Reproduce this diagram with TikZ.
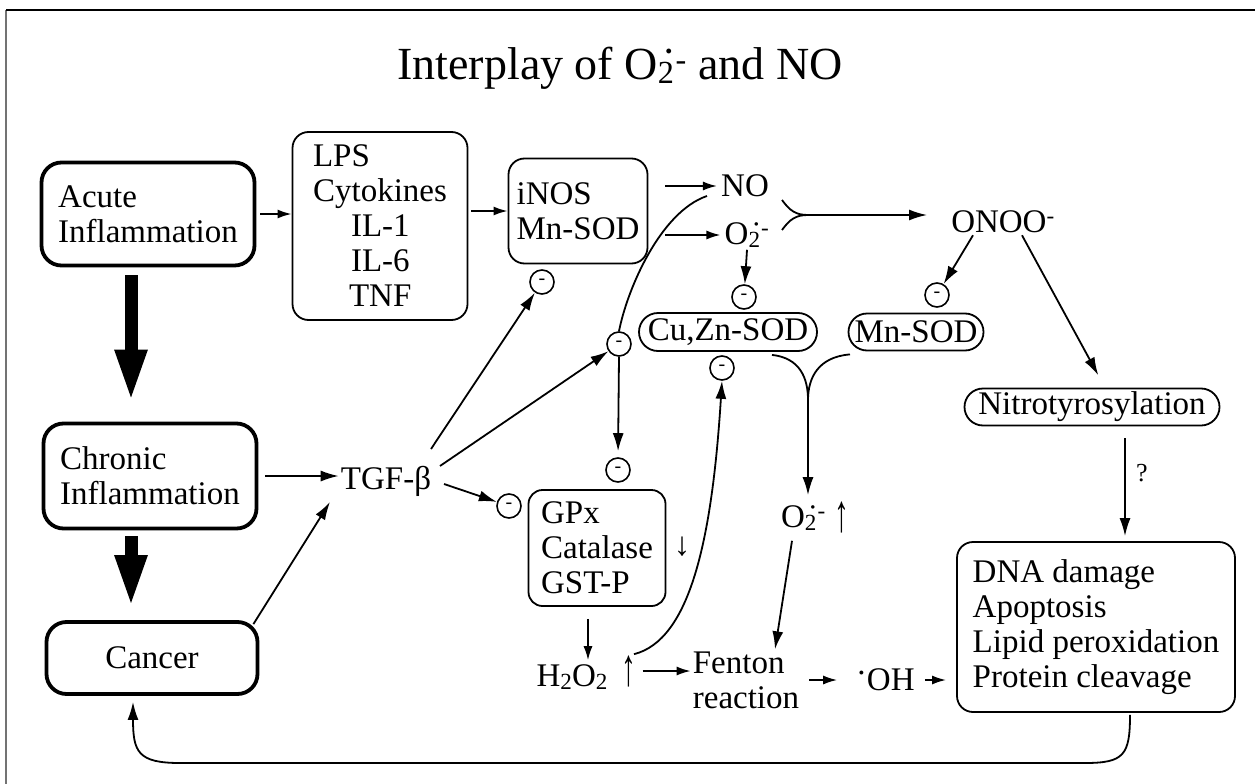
\documentclass[tikz,border=0pt]{standalone}
\usepackage{fontspec}
\usepackage{graphicx}
\setmainfont{Liberation Serif}
\usetikzlibrary{arrows.meta,shapes.misc}
\newcommand{\lsub}[1]{\raisebox{-0.1em}{\scalebox{0.7}{#1}}}
\newcommand{\supox}{O\lsub{2}\kern-0.28em˙\kern-0.02em\textsuperscript{-}}
\newcommand{\tallup}{\raisebox{-0.12em}{\scalebox{0.9}[1.6]{↑}}}
\tikzset{
 every node/.style={font=\fontsize{33}{35}\selectfont, inner sep=2pt},
 box/.style={draw, line width=1.8pt, rounded corners=16pt, align=left},
 thickbox/.style={draw, line width=3.8pt, rounded corners=20pt, align=left, minimum width=213pt},
 pill/.style={draw, line width=1.8pt, rounded rectangle, inner xsep=6pt, inner ysep=2pt},
 neg/.style={draw, circle, line width=1.6pt, minimum size=24pt, inner sep=0pt, font=\fontsize{20}{20}\selectfont},
 arr/.style={line width=1.8pt, -{Latex[length=18pt,width=11pt]}},
 sarr/.style={line width=1.8pt, -{Latex[length=14pt,width=9pt]}},
 bigarr/.style={line width=13pt, -{Triangle[length=53pt,width=29pt]}},
 ln/.style={line width=1.8pt}
}
\begin{document}
\begin{tikzpicture}[x=1pt,y=-1pt]
\useasboundingbox (0,0) rectangle (1255,784);
% frame
\draw[line width=1.6pt, black!55] (6,784) -- (6,10);
\draw[line width=1.8pt] (6,10) -- (1255,10);
% title
\node[font=\fontsize{46}{50}\selectfont] (title) at (620,68) {Interplay of \supox{} and NO};
% left column
\node[thickbox, minimum height=103pt] (acute) at (148,214) {Acute\\Inflammation};
\node[thickbox, minimum height=105pt] (chronic) at (150,476) {Chronic\\Inflammation};
\node[thickbox, minimum height=72pt, minimum width=211pt] (cancer) at (152,658) {Cancer};
\node[box, minimum width=175pt, minimum height=188pt] (lps) at (380,226)
  {LPS\\Cytokines\\\hspace*{38pt}IL-1\\\hspace*{38pt}IL-6\\\hspace*{36pt}TNF};
\node[box, minimum width=139pt, minimum height=105pt] (inos) at (578,211) {iNOS\\Mn-SOD};
\node (no) at (745,186) {NO};
\node (o2) at (747,235) {\supox};
\node (onoo) at (1003,222) {ONOO\textsuperscript{-}};
\node (tgf) at (386,481) {TGF-β};
% minus circles
\node[neg] (nINOS) at (542,282) {-};
\node[neg] (nO2) at (744,297) {-};
\node[neg] (nMN) at (937,295) {-};
\node[neg] (nL) at (619,344) {-};
\node[neg] (nCU) at (722,368) {-};
\node[neg] (nG) at (618,470) {-};
\node[neg] (nGL) at (509,506) {-};
% pills
\node[pill, minimum width=190pt, minimum height=38pt] (cuzn) at (728,332) {Cu,Zn-SOD};
\node[pill, minimum width=147pt, minimum height=37pt] (mnsod) at (916,332) {Mn-SOD};
\node[pill, minimum width=267pt, minimum height=37pt] (nitro) at (1092,407) {Nitrotyrosylation};
% lower middle
\node[box, minimum width=137pt, minimum height=116pt, rounded corners=14pt] (gpx) at (597,548) {GPx\\Catalase\\GST-P};
\node (down1) at (682,547) {↓};
\node (o2b) at (815,517) {\supox\ \tallup};
\node (h2o2) at (572,677) {H\lsub{2}O\lsub{2}};
\node (h2up) at (629,671) {\tallup};
\node[align=left] (fenton) at (746,680) {Fenton\\reaction};
\node (oh) at (886,680) {\raisebox{0.5em}{.}\kern0.04em OH};
\node[box, minimum width=278pt, minimum height=170pt] (dna) at (1096,627)
  {DNA damage\\Apoptosis\\Lipid peroxidation\\Protein cleavage};
\node[font=\fontsize{26}{26}\selectfont] (q) at (1142,473) {?};
% thick arrows
\draw[bigarr] ([xshift=-17pt,yshift=-8pt]acute.south) -- ([xshift=-19pt,yshift=19pt]chronic.north);
\draw[bigarr] ([xshift=-19pt,yshift=-6pt]chronic.south) -- ([xshift=-21pt,yshift=12pt]cancer.north);
% top row arrows
\draw[sarr, shorten <=4pt] (acute.east) -- (lps.west |- acute.east);
\draw[sarr, shorten <=3pt] (lps.east |- inos.west) -- (inos.west);
\draw[sarr, shorten <=17pt, shorten >=2pt] (inos.east |- no.west) -- (no.west);
\draw[sarr, shorten <=17pt, shorten >=2pt] (inos.east |- o2.west) -- (o2.west);
% brace NO + O2 -> ONOO
\coordinate (bt) at (782,200);
\coordinate (bb) at (782,230);
\coordinate (bj) at (808,215);
\draw[ln] (bt) .. controls (790,211) and (796,215) .. (bj);
\draw[ln] (bb) .. controls (790,219) and (796,215) .. (bj);
\draw[arr, shorten >=22pt] (bj) -- (bj -| onoo.west);
% NO curve
\draw[ln] ([xshift=-12pt,yshift=-10pt]no.west) .. controls (660,212) and (627,290) .. (nL.north);
\draw[arr, shorten >=6pt] (nL.south) -- (nG.north);
% O2 inhibition
\draw[arr] (o2.south) -- (nO2);
% ONOO
\draw[arr] ([xshift=-30pt]onoo.south) -- (nMN);
\draw[arr, shorten >=14pt] ([xshift=19pt]onoo.south) -- ([xshift=13pt]nitro.north);
% TGF
\draw[arr, shorten <=7pt] (chronic.east) -- (tgf.west |- chronic.east);
\draw[arr] ([xshift=-6pt,yshift=-4pt]cancer.north east) -- ([shift={(-56pt,-21pt)}]tgf.center);
\draw[arr] ([shift={(45pt,32pt)}]tgf.center) -- (nINOS);
\draw[arr] ([shift={(54pt,15pt)}]tgf.center) -- (nL);
\draw[arr] ([shift={(58pt,-3pt)}]tgf.center) -- (nGL);
% Y merge
\coordinate (yj) at (808,400);
\draw[ln] ([xshift=44pt,yshift=-3pt]cuzn.south) .. controls (800,358) and (808,378) .. (yj);
\draw[ln] ([xshift=-66pt,yshift=-3pt]mnsod.south) .. controls (818,357) and (808,378) .. (yj);
\draw[arr, shorten >=4pt] (yj) -- (yj |- o2b.north);
% H2O2
\draw[sarr, shorten <=12pt, shorten >=2pt] ([xshift=-9pt]gpx.south) -- ([xshift=16pt]h2o2.north);
\draw[arr] ([xshift=5pt,yshift=-1pt]h2up.north) .. controls (690,640) and (712,540) .. (nCU.south);
\draw[sarr, shorten <=4pt] (h2up.east) -- (fenton.west |- h2up.east);
\draw[arr] ([xshift=-23pt,yshift=-6pt]o2b.south) -- ([xshift=29pt]fenton.north);
\draw[sarr, shorten <=8pt, shorten >=18pt] (fenton.east |- oh.west) -- (oh.west);
\draw[sarr, shorten <=8pt, shorten >=10pt] (oh.east) -- (dna.west |- oh.east);
% nitro -> DNA
\draw[arr, shorten <=12pt, shorten >=5pt] ([xshift=33pt]nitro.south) -- ([xshift=29pt]dna.north);
% feedback
\draw[arr] ([xshift=34pt,yshift=-2pt]dna.south) .. controls (1130,755) and (1124,763) .. (1085,763)
  -- (180,763) .. controls (138,763) and (133,752) .. ([xshift=-19pt,yshift=-6pt]cancer.south);
\end{tikzpicture}
\end{document}
